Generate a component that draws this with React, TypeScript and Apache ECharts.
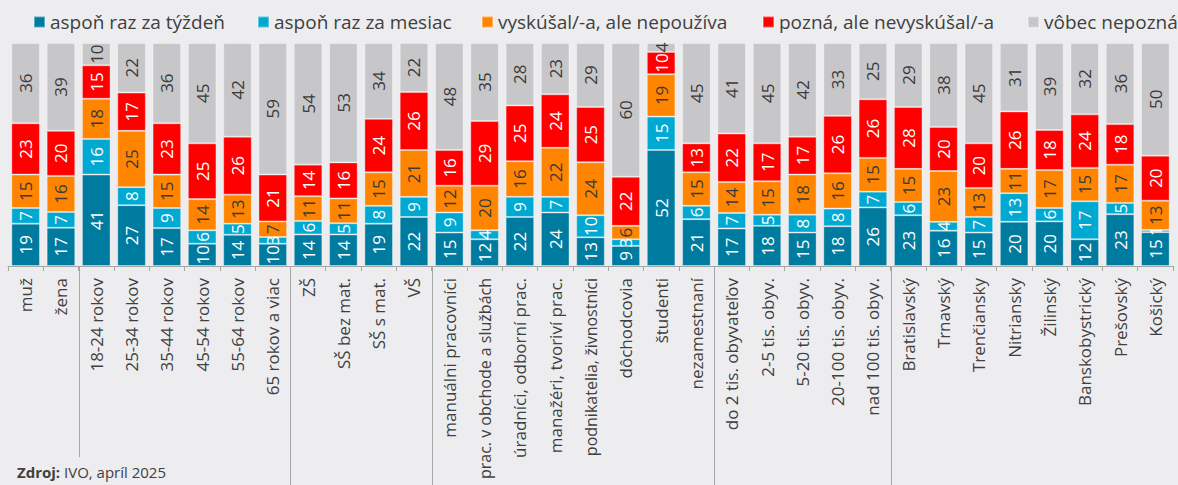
import React, { useEffect, useRef } from "react";
import * as echarts from "echarts";

const categories = [
  "muž", "žena",
  "18-24 rokov", "25-34 rokov", "35-44 rokov", "45-54 rokov", "55-64 rokov", "65 rokov a viac",
  "ZŠ", "SŠ bez mat.", "SŠ s mat.", "VŠ",
  "manuálni pracovníci", "prac. v obchode a službách", "úradníci, odborní prac.", "manažéri, tvoriví prac.",
  "podnikatelia, živnostníci", "dôchodcovia", "študenti", "nezamestnaní",
  "do 2 tis. obyvateľov", "2-5 tis. obyv.", "5-20 tis. obyv.", "20-100 tis. obyv.", "nad 100 tis. obyv.",
  "Bratislavský", "Trnavský", "Trenčiansky", "Nitriansky", "Žilinský", "Banskobystrický", "Prešovský", "Košický",
];

const groupSizes = [2, 6, 4, 8, 5, 8];

const seriesNames = [
  "aspoň raz za týždeň",
  "aspoň raz za mesiac",
  "vyskúšal/-a, ale nepoužíva",
  "pozná, ale nevyskúšal/-a",
  "vôbec nepozná",
];

const weekly = [19, 17, 41, 27, 17, 10, 14, 10, 14, 14, 19, 22, 15, 12, 22, 24, 13, 9, 52, 21, 17, 18, 15, 18, 26, 23, 16, 15, 20, 20, 12, 23, 15];
const monthly = [7, 7, 16, 8, 9, 6, 5, 3, 6, 5, 8, 9, 9, 4, 9, 7, 10, 3, 15, 6, 7, 5, 8, 8, 7, 6, 4, 7, 13, 6, 17, 5, 1];
const triedNotUsing = [15, 16, 18, 25, 15, 14, 13, 7, 11, 11, 15, 21, 12, 20, 16, 22, 24, 6, 19, 15, 14, 15, 18, 16, 15, 15, 23, 13, 11, 17, 15, 17, 13];
const knowsNotTried = [23, 20, 15, 17, 23, 25, 26, 21, 14, 16, 24, 26, 16, 29, 25, 24, 25, 22, 10, 13, 22, 17, 17, 26, 26, 28, 20, 20, 26, 18, 24, 18, 20];
const unknown = [36, 39, 10, 22, 36, 45, 42, 59, 54, 53, 34, 22, 48, 35, 28, 23, 29, 60, 4, 45, 41, 45, 42, 33, 25, 29, 38, 45, 31, 39, 32, 36, 50];

const seriesValues = [weekly, monthly, triedNotUsing, knowsNotTried, unknown];
const seriesColors = ["#007BA0", "#00A9D2", "#FF8500", "#FF0000", "#C7C7CA"];
const labelColors = ["#FFFFFF", "#FFFFFF", "#3A3A3A", "#FFFFFF", "#3A3A3A"];
const legendLefts = [33, 257, 481, 762, 1027];

const FONT = "'Open Sans', 'Noto Sans', sans-serif";

export default function App() {
  const ref = useRef<HTMLDivElement>(null);

  useEffect(() => {
    document.body.style.margin = "0";
    const chart = echarts.init(ref.current!, null, { renderer: "svg" });

    const totals = categories.map((_, i) =>
      seriesValues.reduce((s, arr) => s + arr[i], 0)
    );

    const series = seriesValues.map((arr, si) => ({
      name: seriesNames[si],
      type: "bar",
      stack: "total",
      barCategoryGap: "19%",
      data: arr.map((v, i) => ({ value: (v / totals[i]) * 100, raw: v })),
      itemStyle: {
        color: seriesColors[si],
        borderColor: "rgba(255,255,255,0.35)",
        borderWidth: 1,
      },
      label: {
        show: true,
        position: "inside",
        rotate: 90,
        fontSize: 17,
        fontFamily: FONT,
        color: labelColors[si],
        formatter: (p: any) => String(p.data.raw),
      },
    }));

    const legends = seriesNames.map((name, i) => ({
      data: [name],
      left: legendLefts[i],
      top: 11,
      padding: 0,
      icon: "rect",
      itemWidth: 11,
      itemHeight: 11,
      itemGap: 6,
      textStyle: { fontSize: 19, fontFamily: FONT, color: "#404040", lineHeight: 22 },
    }));

    // the longest category name gets a slightly smaller font so it stays on the page
    const axisData = categories.map((c) =>
      c.length > 24 ? { value: c, textStyle: { fontSize: 16 } } : c
    );

    chart.setOption({
      animation: false,
      backgroundColor: "#EDEDF0",
      legend: legends,
      grid: {
        left: 8,
        right: 5,
        top: 43,
        bottom: 219,
        containLabel: false,
        outerBoundsMode: "none",
      },
      xAxis: {
        type: "category",
        data: axisData,
        axisLine: { lineStyle: { color: "#A6A6A6", width: 1 } },
        axisTick: { show: true, interval: 0, length: 5, lineStyle: { color: "#A6A6A6" } },
        axisLabel: {
          interval: 0,
          rotate: 90,
          margin: 12,
          fontSize: 17,
          fontFamily: FONT,
          color: "#404040",
        },
      },
      yAxis: { type: "value", min: 0, max: 100, show: false, splitLine: { show: false } },
      series,
    });

    const y0 = chart.convertToPixel({ yAxisIndex: 0 }, 0) as number;
    const graphics: any[] = [];
    let cum = 0;
    groupSizes.slice(0, -1).forEach((g, k) => {
      cum += g;
      const xa = chart.convertToPixel({ xAxisIndex: 0 }, cum - 1) as number;
      const xb = chart.convertToPixel({ xAxisIndex: 0 }, cum) as number;
      const x = Math.round((xa + xb) / 2) + 0.5;
      graphics.push({
        type: "line",
        shape: { x1: x, y1: y0, x2: x, y2: k === 0 ? 457 : 485 },
        style: { stroke: "#A6A6A6", lineWidth: 1 },
        silent: true,
      });
    });
    graphics.push({
      type: "text",
      left: 17,
      top: 464,
      style: {
        text: "{b|Zdroj:} {n|IVO, apríl 2025}",
        fontSize: 15,
        fontFamily: FONT,
        fill: "#404040",
        rich: {
          b: { fontWeight: "bold", fontSize: 15, fontFamily: FONT, fill: "#404040", lineHeight: 19 },
          n: { fontSize: 15, fontFamily: FONT, fill: "#404040", lineHeight: 19 },
        },
      },
    });
    chart.setOption({ graphic: graphics });

    return () => chart.dispose();
  }, []);

  return <div ref={ref} style={{ width: 1178, height: 485 }} />;
}
